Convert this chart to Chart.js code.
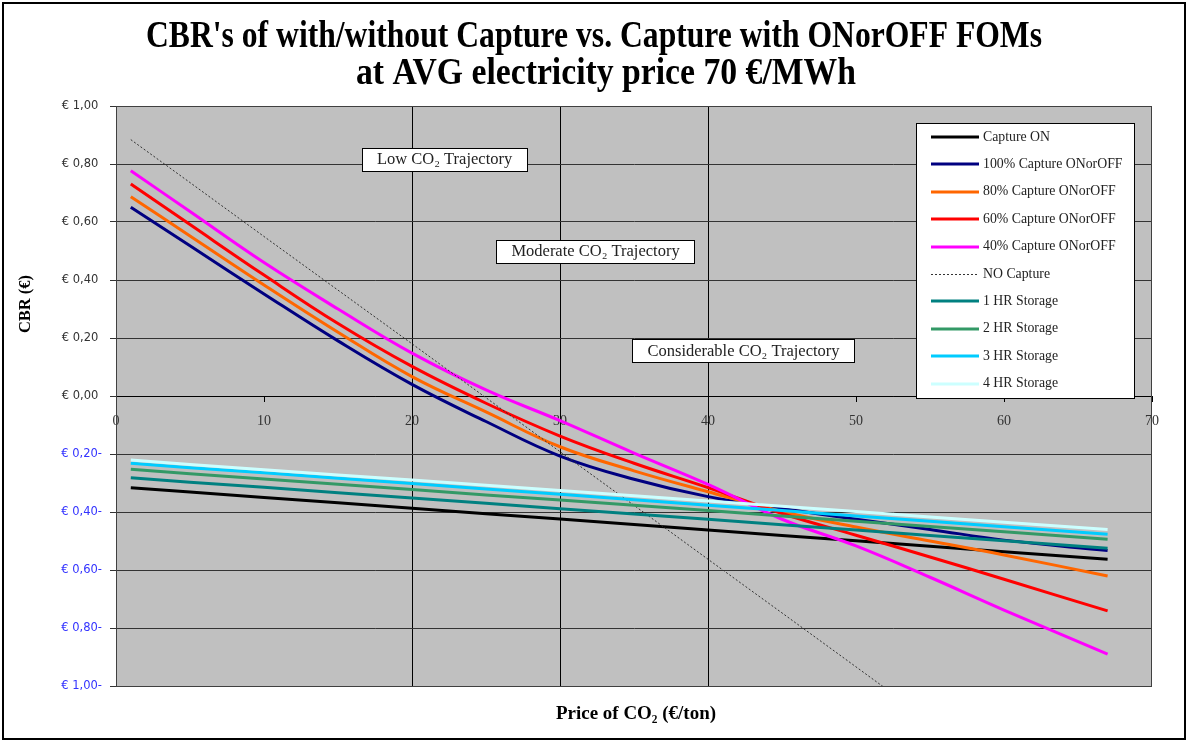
<!DOCTYPE html>
<html>
<head>
<meta charset="utf-8">
<script src="https://cdn.jsdelivr.net/npm/chart.js@4.4.1/dist/chart.umd.min.js"></script>
<style>
  html, body { margin: 0; padding: 0; background: #fff; }
  canvas { display: block; }
</style>
</head>
<body>
<canvas id="cbrChart" width="1188" height="742"></canvas>
<script>
// Price of CO2 (€/ton) where values were read
const co2Price = [1, 5, 10, 15, 20, 25, 30, 35, 40, 45, 50, 55, 60, 67];

// CBR (€) per series
const captureOn   = [-0.316, -0.331, -0.350, -0.368, -0.387, -0.406, -0.424, -0.443, -0.462, -0.481, -0.499, -0.518, -0.537, -0.563];
const capture100  = [0.651, 0.518, 0.352, 0.190, 0.040, -0.088, -0.207, -0.287, -0.347, -0.388, -0.425, -0.460, -0.497, -0.533];
const capture80   = [0.687, 0.552, 0.383, 0.220, 0.067, -0.055, -0.175, -0.258, -0.330, -0.398, -0.452, -0.500, -0.548, -0.621];
const capture60   = [0.731, 0.591, 0.417, 0.250, 0.102, -0.025, -0.138, -0.232, -0.316, -0.405, -0.480, -0.555, -0.632, -0.741];
const capture40   = [0.777, 0.636, 0.460, 0.300, 0.148, 0.021, -0.085, -0.197, -0.305, -0.425, -0.517, -0.625, -0.738, -0.890];
const noCapture   = [0.884, 0.736, 0.550, 0.365, 0.180, -0.006, -0.192, -0.377, -0.563, -0.748, -0.934, -1.120, -1.305, -1.565];
const storage1h   = [-0.282, -0.297, -0.315, -0.334, -0.352, -0.370, -0.389, -0.407, -0.425, -0.444, -0.462, -0.481, -0.499, -0.525];
const storage2h   = [-0.253, -0.268, -0.286, -0.304, -0.322, -0.341, -0.359, -0.377, -0.395, -0.414, -0.432, -0.450, -0.468, -0.494];
const storage3h   = [-0.232, -0.247, -0.265, -0.284, -0.302, -0.321, -0.339, -0.358, -0.377, -0.395, -0.414, -0.432, -0.451, -0.477];
const storage4h   = [-0.221, -0.236, -0.254, -0.272, -0.290, -0.308, -0.326, -0.344, -0.362, -0.380, -0.398, -0.417, -0.435, -0.460];

const seriesNames = ['Capture ON', '100% Capture ONorOFF', '80% Capture ONorOFF', '60% Capture ONorOFF',
  '40% Capture ONorOFF', 'NO Capture', '1 HR Storage', '2 HR Storage', '3 HR Storage', '4 HR Storage'];
const seriesValues = [captureOn, capture100, capture80, capture60, capture40, noCapture,
  storage1h, storage2h, storage3h, storage4h];
const seriesColors = ['#000000', '#000080', '#FF6600', '#FF0000', '#FF00FF', '#333333',
  '#008080', '#339966', '#00CCFF', '#CCFFFF'];

// Text boxes placed on the plot (x, y in data units)
const trajectoryLabels = ['Low CO\u2082 Trajectory', 'Moderate CO\u2082 Trajectory', 'Considerable CO\u2082 Trajectory'];
const trajectoryX = [22.2, 32.4, 42.4];
const trajectoryY = [0.817, 0.500, 0.157];

const datasets = seriesNames.map((name, i) => {
  const dashed = name === 'NO Capture';
  const curved = i >= 1 && i <= 4;
  return {
    label: name,
    data: co2Price.map((x, j) => ({ x, y: seriesValues[i][j] })),
    borderColor: seriesColors[i],
    backgroundColor: seriesColors[i],
    borderWidth: dashed ? 1 : 3,
    borderDash: dashed ? [2, 2] : [],
    pointRadius: 0,
    fill: false,
    tension: curved ? 0.4 : 0,
    order: seriesNames.length - i
  };
});

// Helper: draw text squeezed/stretched to a given width
function fitText(ctx, text, cx, cy, width) {
  const w = ctx.measureText(text).width;
  ctx.save();
  ctx.translate(cx, cy);
  ctx.scale(width / w, 1);
  ctx.textAlign = 'center';
  ctx.fillText(text, 0, 0);
  ctx.restore();
}

const decorPlugin = {
  id: 'decor',
  beforeDraw(chart) {
    const { ctx, chartArea: a } = chart;
    ctx.save();
    ctx.fillStyle = '#C0C0C0';
    ctx.fillRect(a.left, a.top, a.right - a.left, a.bottom - a.top);
    ctx.restore();
  },
  afterDraw(chart) {
    const { ctx, chartArea: a } = chart;
    const xs = chart.scales.x, ys = chart.scales.y;
    ctx.save();

    // plot frame
    ctx.strokeStyle = '#404040';
    ctx.lineWidth = 1;
    ctx.strokeRect(a.left + 0.5, a.top + 0.5, a.right - a.left - 1, a.bottom - a.top);

    // outer border
    ctx.strokeStyle = '#000';
    ctx.lineWidth = 2;
    ctx.strokeRect(3, 3, 1182, 736);

    // title
    ctx.fillStyle = '#000';
    ctx.textBaseline = 'middle';
    ctx.font = 'bold 37px "Liberation Serif"';
    fitText(ctx, "CBR's of with/without Capture vs. Capture with ONorOFF FOMs", 594, 37, 896);
    fitText(ctx, 'at AVG electricity price 70 \u20AC/MWh', 606, 74, 500);

    // axis titles
    ctx.font = 'bold 18px "Liberation Serif"';
    fitText(ctx, 'Price of CO\u2082 (\u20AC/ton)', 636, 714, 160);
    ctx.save();
    ctx.translate(26, 304);
    ctx.rotate(-Math.PI / 2);
    ctx.font = 'bold 16px "Liberation Serif"';
    fitText(ctx, 'CBR (\u20AC)', 0, 0, 58);
    ctx.restore();

    // trajectory boxes
    ctx.font = '16.5px "Liberation Serif"';
    ctx.lineWidth = 1;
    trajectoryLabels.forEach((t, i) => {
      const cx = xs.getPixelForValue(trajectoryX[i]);
      const cy = ys.getPixelForValue(trajectoryY[i]);
      const w = ctx.measureText(t).width + 30;
      const h = 23;
      const bx = Math.round(cx - w / 2), by = Math.round(cy - h / 2);
      ctx.fillStyle = '#fff';
      ctx.fillRect(bx, by, Math.round(w), h);
      ctx.strokeStyle = '#000';
      ctx.strokeRect(bx + 0.5, by + 0.5, Math.round(w), h);
      ctx.fillStyle = '#222';
      ctx.textAlign = 'center';
      ctx.fillText(t, cx, cy + 1);
    });

    // legend
    const lx = 916, ly = 123, lw = 218, lh = 275;
    ctx.fillStyle = '#fff';
    ctx.fillRect(lx, ly, lw, lh);
    ctx.strokeStyle = '#000';
    ctx.lineWidth = 1;
    ctx.strokeRect(lx + 0.5, ly + 0.5, lw, lh);
    ctx.font = '13.8px "Liberation Serif"';
    ctx.textAlign = 'left';
    chart.data.datasets.forEach((ds, i) => {
      const y = 137 + i * 27.4;
      const off = ds.borderWidth === 1 ? 0.5 : 0;
      ctx.strokeStyle = ds.borderColor;
      ctx.lineWidth = ds.borderWidth;
      ctx.setLineDash(ds.borderDash);
      ctx.beginPath();
      ctx.moveTo(931, Math.round(y) + off);
      ctx.lineTo(979, Math.round(y) + off);
      ctx.stroke();
      ctx.setLineDash([]);
      ctx.fillStyle = '#222';
      ctx.fillText(ds.label, 983, y);
    });

    ctx.restore();
  }
};

new Chart(document.getElementById('cbrChart'), {
  type: 'line',
  data: { datasets },
  options: {
    responsive: false,
    animation: false,
    layout: { padding: { left: 0, top: 106, right: 36, bottom: 56 } },
    plugins: {
      legend: { display: false },
      title: { display: false },
      tooltip: { enabled: false }
    },
    scales: {
      x: {
        type: 'linear',
        position: { y: 0 },
        min: 0,
        max: 70,
        afterFit: s => { s.height = 0; },
        ticks: {
          stepSize: 10,
          padding: 12,
          color: '#333',
          font: { family: 'Liberation Serif', size: 14 }
        },
        grid: {
          color: c => [20, 30, 40].includes(c.tick && c.tick.value) ? '#000' : 'rgba(0,0,0,0)',
          tickColor: '#000',
          tickLength: 5,
          lineWidth: 1
        },
        border: { color: '#000', width: 1 }
      },
      y: {
        min: -1,
        max: 1,
        afterFit: s => { s.width = 116; },
        ticks: {
          stepSize: 0.2,
          padding: 8,
          color: c => c.tick.value < -1e-9 ? '#3333FF' : '#333333',
          font: { family: 'DejaVu Sans', size: 11.5 },
          callback: v => {
            const s = '\u20AC ' + Math.abs(v).toFixed(2).replace('.', ',');
            return v < -1e-9 ? s + '-' : s + ' ';
          }
        },
        grid: {
          color: '#333',
          tickColor: '#333',
          tickLength: 6,
          lineWidth: 1
        },
        border: { color: '#000', width: 1 }
      }
    }
  },
  plugins: [decorPlugin]
});
</script>
</body>
</html>
